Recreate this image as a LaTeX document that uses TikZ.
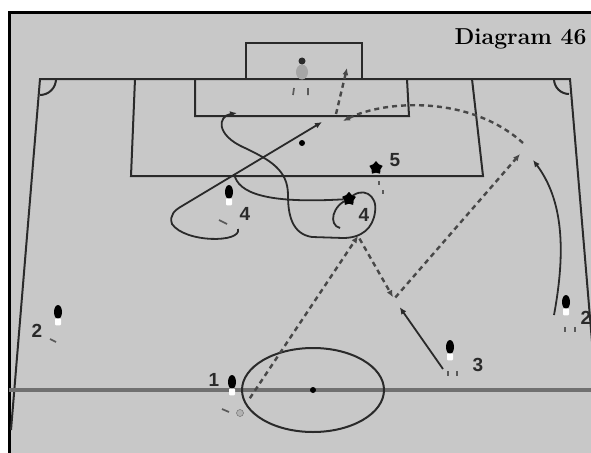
\documentclass[tikz,border=0pt]{standalone}
\usepackage{fontspec}
\newfontfamily\numfont{Liberation Sans}
\usetikzlibrary{shapes.geometric,arrows.meta,positioning,calc}
\definecolor{pitchgrey}{RGB}{200,200,200}
\definecolor{ink}{RGB}{42,42,42}
\definecolor{passink}{RGB}{72,72,72}
\definecolor{halfgrey}{RGB}{112,112,112}
\tikzset{
  pitchline/.style={draw=ink, line width=2pt},
  run/.style={draw=ink, line width=1.8pt, -{Latex[length=7pt,width=6pt]}},
  runline/.style={draw=ink, line width=1.8pt},
  pass/.style={draw=passink, line width=2.4pt, dash pattern=on 5pt off 4pt, -{Latex[length=7pt,width=6pt]}},
  shirt/.style={ellipse, fill=black, inner sep=0pt, minimum width=8pt, minimum height=14pt},
  attacker/.style={star, star points=5, fill=black, inner sep=0pt, minimum size=14pt},
  shorts/.style={rectangle, rounded corners=1pt, fill=white, inner sep=0pt, minimum width=6pt, minimum height=7pt},
  feet/.style={draw=gray!70!black, line width=1.7pt},
  num/.style={font=\numfont\bfseries\fontsize{19}{19}\selectfont, text=ink, inner sep=0pt},
}
\begin{document}
\begin{tikzpicture}[x=1pt, y=-1pt]
    \useasboundingbox (0,0) rectangle (591,452);
    \fill[white] (0,0) rectangle (591,452);
    \fill[pitchgrey] (9,12) rectangle (600,470);
    \draw[line width=3pt] (9.5,470) -- (9.5,12.5) -- (600,12.5);

    % Pitch
    \draw[pitchline] (11,430) -- (40,79) -- (570,79) -- (600,437);
    \draw[pitchline] (56,79) arc[start angle=0, end angle=90, radius=16];
    \draw[pitchline] (554,79) arc[start angle=180, end angle=90, radius=15];
    \draw[pitchline] (135,79) -- (131,176) -- (483,176) -- (472,79);
    \draw[pitchline] (195,79) -- (195,116) -- (409,116) -- (407,79);
    \draw[pitchline] (246,79) -- (246,43) -- (362,43) -- (362,79);
    \fill[black] (302,143) circle[radius=3];
    \draw[halfgrey, line width=3.5pt] (9,390) -- (600,390);
    \draw[pitchline] (313,390) ellipse[x radius=71, y radius=42];
    \fill[black] (313,390) circle[radius=3];

    \node[anchor=base east, font=\bfseries\fontsize{23}{23}\selectfont] (title) at (590,45) {Diagram 46};

    % Keeper
    \node[ellipse, fill=gray!70, inner sep=0pt, minimum width=12pt, minimum height=15pt] (gk) at (302,72) {};
    \node[circle, fill=ink, inner sep=0pt, minimum size=7pt] (gkhead) at (302,61) {};
    \draw[feet] (294,88) -- (293,95) (308,88) -- (308,95);

    % Players
    \foreach \name/\px/\py in {p1/232/382, p2l/58/312, p4l/229/192, p3/450/347, p2r/566/302} {
        \node[shirt] (\name) at (\px,\py) {};
        \node[shorts, below=-1pt of \name] (\name-s) {};
    }
    \node[attacker] (p4r) at (349,199) {};
    \node[attacker] (p5) at (376,168) {};
    \draw[feet] (222,409) -- (229,412);
    \draw[feet] (50,339) -- (56,342);
    \draw[feet] (219,220) -- (227,224);
    \draw[feet] (448,371) -- (448,376) (457,371) -- (457,376);
    \draw[feet] (565,327) -- (565,332) (575,327) -- (575,332);
    \draw[feet] (379,181) -- (379,185) (383,190) -- (383,194);
    \node[circle, fill=gray!60, draw=gray!80!black, inner sep=0pt, minimum size=7pt] (ball) at (240,413) {};

    % Numbers
    \node[num] (n1) at (214,380) {1};
    \node[num] (n2l) at (37,331) {2};
    \node[num] (n4l) at (245,214) {4};
    \node[num] (n4r) at (364,215) {4};
    \node[num] (n5) at (395,160) {5};
    \node[num] (n3) at (478,365) {3};
    \node[num] (n2r) at (586,318) {2};

    % Points of play
    \coordinate (lay) at (358,236);
    \coordinate (meet) at (394,299);
    \coordinate (wing) at (520,154);
    \coordinate (crossfrom) at (523,143);
    \coordinate (crossto) at (343,121);
    \coordinate (shotfrom) at (336,114);
    \coordinate (goal) at (347,68);
    \coordinate (post) at (322,122);
    \coordinate (sixyard) at (237,113);

    % Passes
    \draw[pass, shorten <=14pt] (ball) -- (lay);
    \draw[pass, shorten <=3pt, shorten >=2pt] (lay) -- (meet);
    \draw[pass, shorten <=2pt] (meet) -- (wing);
    \draw[pass] (crossfrom) .. controls (470,95) and (385,100) .. (crossto);
    \draw[pass] (shotfrom) -- (goal);

    % Runs
    \draw[run, shorten >=10pt] (443,369) -- (meet);
    \draw[run] (554,315) .. controls (566,250) and (563,200) .. (533,160);
    \draw[run] (238,229) .. controls (242,243) and (185,243) .. (172,224)
        .. controls (169,215) and (175,210) .. (182,206) -- (post);
    \draw[runline] (235,177) .. controls (242,197) and (280,203) .. (p4r);
    \draw[run] (340,228) .. controls (328,225) and (332,205) .. (p4r.center)
        .. controls (362,185) and (378,195) .. (375,212)
        .. controls (373,228) and (362,238) .. (343,238) -- (312,237)
        .. controls (292,234) and (288,215) .. (288,195)
        .. controls (288,170) and (270,160) .. (245,148)
        .. controls (215,135) and (218,116) .. (sixyard);
    \node[attacker] at (p4r) {};
\end{tikzpicture}
\end{document}
